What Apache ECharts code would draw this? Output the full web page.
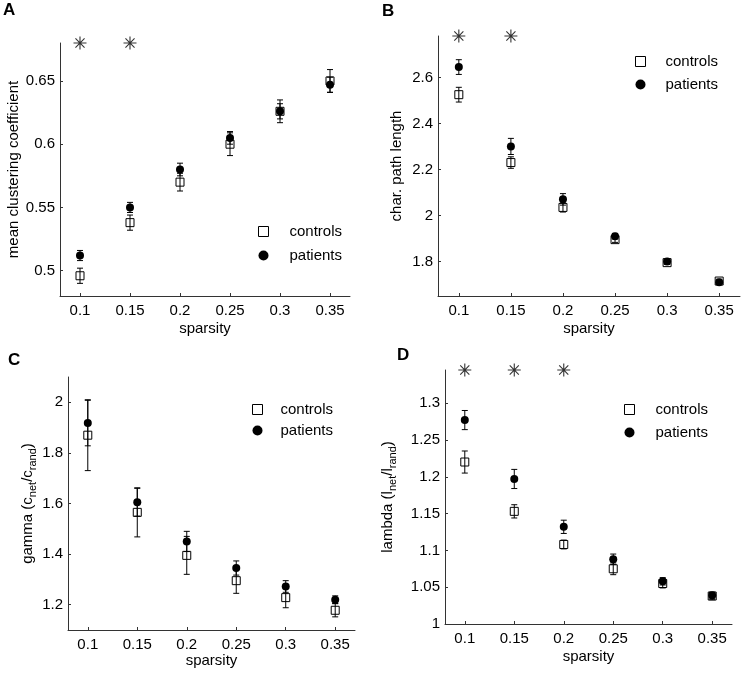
<!DOCTYPE html>
<html>
<head>
<meta charset="utf-8">
<script src="https://cdn.jsdelivr.net/npm/echarts@6/dist/echarts.min.js"></script>
<style>html,body{margin:0;padding:0;background:#fff}#c{width:745px;height:674px}</style>
</head>
<body>
<div id="c"></div>
<script>
// ---- data ----
const sparsity = [0.1, 0.15, 0.2, 0.25, 0.3, 0.35];
const xTicks = [0.1, 0.15, 0.2, 0.25, 0.3, 0.35];

const clustControls = [0.496, 0.538, 0.570, 0.600, 0.626, 0.650];
const clustControlsErr = [0.006, 0.006, 0.007, 0.009, 0.009, 0.009];
const clustPatients = [0.512, 0.550, 0.580, 0.605, 0.626, 0.647];
const clustPatientsErr = [0.004, 0.004, 0.005, 0.005, 0.006, 0.006];
const clustTicks = [0.5, 0.55, 0.6, 0.65];
const clustStars = [0.1, 0.15];

const pathControls = [2.525, 2.23, 2.035, 1.895, 1.795, 1.715];
const pathControlsErr = [0.032, 0.025, 0.02, 0.012, 0.008, 0.008];
const pathPatients = [2.645, 2.30, 2.07, 1.91, 1.80, 1.71];
const pathPatientsErr = [0.032, 0.035, 0.025, 0.012, 0.008, 0.008];
const pathTicks = [1.8, 2, 2.2, 2.4, 2.6];
const pathStars = [0.1, 0.15];

const gammaControls = [1.87, 1.565, 1.395, 1.295, 1.228, 1.178];
const gammaControlsErr = [0.14, 0.097, 0.075, 0.05, 0.04, 0.026];
const gammaPatients = [1.918, 1.605, 1.45, 1.345, 1.272, 1.22];
const gammaPatientsErr = [0.09, 0.055, 0.04, 0.028, 0.023, 0.015];
const gammaTicks = [1.2, 1.4, 1.6, 1.8, 2];
const gammaStars = [];

const lambdaControls = [1.22, 1.153, 1.108, 1.075, 1.055, 1.038];
const lambdaControlsErr = [0.015, 0.009, 0.006, 0.008, 0.006, 0.005];
const lambdaPatients = [1.277, 1.197, 1.132, 1.088, 1.058, 1.039];
const lambdaPatientsErr = [0.013, 0.013, 0.009, 0.007, 0.005, 0.004];
const lambdaTicks = [1, 1.05, 1.1, 1.15, 1.2, 1.25, 1.3];
const lambdaStars = [0.1, 0.15, 0.2];

const seriesNames = ['controls', 'patients'];
const panelLetters = ['A', 'B', 'C', 'D'];

// ---- layout / style ----
const FONT = 'Liberation Sans, Arial, sans-serif';
const FS = 15;
const panels = [
  {grid:{left:60, top:43, width:290, height:253}, ymin:0.48, ymax:0.68, ticks:clustTicks,
   c:clustControls, ce:clustControlsErr, p:clustPatients, pe:clustPatientsErr, stars:clustStars,
   yname:'mean clustering coefficient', ygap:39, xgap:25,
   legend:{left:253, top:218, itemGap:7, pad:16}, letter:{left:3, top:2}},
  {grid:{left:438, top:36, width:302, height:260}, ymin:1.65, ymax:2.78, ticks:pathTicks,
   c:pathControls, ce:pathControlsErr, p:pathPatients, pe:pathPatientsErr, stars:pathStars,
   yname:'char. path length', ygap:34, xgap:25,
   legend:{left:630, top:48, itemGap:6, pad:15}, letter:{left:382, top:3}},
  {grid:{left:68, top:377, width:287, height:253}, ymin:1.1, ymax:2.1, ticks:gammaTicks,
   c:gammaControls, ce:gammaControlsErr, p:gammaPatients, pe:gammaPatientsErr, stars:gammaStars,
   yname:'{n|gamma (c}{s|net}{n|/c}{s|rand}{n|)}', ygap:30, xgap:22,
   legend:{left:247, top:396, itemGap:4, pad:13}, letter:{left:8, top:352}},
  {grid:{left:445, top:370, width:287, height:254}, ymin:1, ymax:1.345, ticks:lambdaTicks,
   c:lambdaControls, ce:lambdaControlsErr, p:lambdaPatients, pe:lambdaPatientsErr, stars:lambdaStars,
   yname:'{n|lambda (l}{s|net}{n|/l}{s|rand}{n|)}', ygap:47, xgap:25,
   legend:{left:619, top:396, itemGap:6, pad:16}, letter:{left:397, top:347}}
];

function errData(xs, m, e) {
  return xs.map((x, i) => [x, m[i] - e[i], m[i] + e[i]]);
}
function errRender(params, api) {
  const x = api.value(0), lo = api.value(1), hi = api.value(2);
  const a = api.coord([x, lo]), b = api.coord([x, hi]);
  const w = 3;
  const st = {stroke:'#000', lineWidth:1};
  return {type:'group', children:[
    {type:'line', shape:{x1:a[0], y1:a[1], x2:b[0], y2:b[1]}, style:st},
    {type:'line', shape:{x1:a[0]-w, y1:a[1], x2:a[0]+w, y2:a[1]}, style:st},
    {type:'line', shape:{x1:b[0]-w, y1:b[1], x2:b[0]+w, y2:b[1]}, style:st}
  ]};
}

const grids = [], xAxes = [], yAxes = [], series = [], legends = [], graphics = [];
const starPath = 'path://M5,0L5,10M0,5L10,5M1.5,1.5L8.5,8.5M1.5,8.5L8.5,1.5';

panels.forEach((P, k) => {
  grids.push(Object.assign({containLabel:false}, P.grid));
  xAxes.push({
    type:'value', gridIndex:k, min:0.08, max:0.37,
    name:'sparsity', nameLocation:'middle', nameGap:P.xgap,
    nameTextStyle:{color:'#000', fontSize:FS, fontFamily:FONT},
    axisLine:{show:true, lineStyle:{color:'#333', width:1}},
    axisTick:{show:true, inside:true, length:3, customValues:xTicks, lineStyle:{color:'#333'}},
    axisLabel:{show:true, customValues:xTicks, margin:7, color:'#000', fontSize:FS, fontFamily:FONT},
    splitLine:{show:false}
  });
  yAxes.push({
    type:'value', gridIndex:k, min:P.ymin, max:P.ymax,
    name:P.yname, nameLocation:'middle', nameGap:P.ygap,
    nameTextStyle:{color:'#000', fontSize:FS, fontFamily:FONT,
      rich:{n:{fontSize:FS, fontFamily:FONT, color:'#000', lineHeight:20},
            s:{fontSize:11, fontFamily:FONT, color:'#000', lineHeight:11, verticalAlign:'bottom'}}},
    axisLine:{show:true, lineStyle:{color:'#333', width:1}},
    axisTick:{show:true, inside:true, length:3, customValues:P.ticks, lineStyle:{color:'#333'}},
    axisLabel:{show:true, customValues:P.ticks, margin:5, color:'#000', fontSize:FS, fontFamily:FONT},
    splitLine:{show:false}
  });
  series.push({type:'custom', xAxisIndex:k, yAxisIndex:k, renderItem:errRender,
    data:errData(sparsity, P.c, P.ce), encode:{x:0, y:[1,2]}, silent:true, z:2});
  series.push({type:'scatter', name:seriesNames[0], xAxisIndex:k, yAxisIndex:k,
    symbol:'rect', symbolSize:8,
    itemStyle:{color:'rgba(0,0,0,0)', borderColor:'#000', borderWidth:1, opacity:1},
    data:sparsity.map((x, i) => [x, P.c[i]]), z:3});
  series.push({type:'custom', xAxisIndex:k, yAxisIndex:k, renderItem:errRender,
    data:errData(sparsity, P.p, P.pe), encode:{x:0, y:[1,2]}, silent:true, z:4});
  series.push({type:'scatter', name:seriesNames[1], xAxisIndex:k, yAxisIndex:k,
    symbol:'circle', symbolSize:8,
    itemStyle:{color:'#000', opacity:1},
    data:sparsity.map((x, i) => [x, P.p[i]]), z:5});
  if (P.stars.length) {
    series.push({type:'scatter', xAxisIndex:k, yAxisIndex:k, symbol:starPath, symbolSize:13,
      clip:false, silent:true,
      itemStyle:{color:'rgba(0,0,0,0)', borderColor:'#000', borderWidth:1.1},
      data:P.stars.map(x => [x, P.ymax]), z:6});
  }
  legends.push({
    orient:'vertical', left:P.legend.left, top:P.legend.top, itemGap:P.legend.itemGap,
    itemWidth:10, itemHeight:10, selectedMode:false,
    data:[
      {name:seriesNames[0], icon:'rect', itemStyle:{color:'rgba(0,0,0,0)', borderColor:'#000', borderWidth:1}},
      {name:seriesNames[1], icon:'circle', itemStyle:{color:'#000'}}
    ],
    textStyle:{color:'#000', fontSize:FS, fontFamily:FONT, lineHeight:17, padding:[0,0,0,P.legend.pad]}
  });
  graphics.push({type:'text', left:P.letter.left, top:P.letter.top,
    style:{text:panelLetters[k], font:'bold 17px ' + FONT, fill:'#000'}});
});

const chart = echarts.init(document.getElementById('c'), null, {renderer:'canvas'});
chart.setOption({
  animation:false,
  backgroundColor:'#fff',
  grid:grids, xAxis:xAxes, yAxis:yAxes, series:series, legend:legends, graphic:graphics
});
</script>
</body>
</html>
